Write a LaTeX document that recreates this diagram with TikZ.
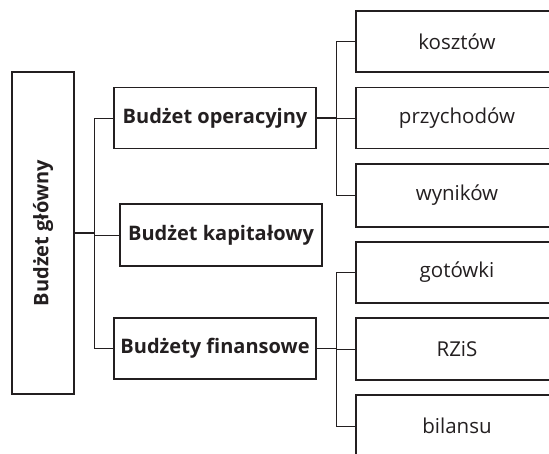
\documentclass[tikz,border=0pt]{standalone}
\usepackage{fontspec}
\setmainfont{Open Sans}
\definecolor{ink}{HTML}{231F20}
\begin{document}
\begin{tikzpicture}[x=1pt,y=-1pt,
  box/.style={draw=ink,line width=1.4pt,rectangle,inner sep=0pt,text=ink,
    minimum width=202pt,minimum height=61pt,font=\fontsize{20.5}{24}\selectfont},
  bbox/.style={box,font=\fontsize{20}{24}\selectfont\bfseries},
  conn/.style={draw=ink,line width=0.9pt},
  stub/.style={draw=ink,line width=1.6pt}]
\useasboundingbox (0,0) rectangle (549,454);
\clip (0,0) rectangle (549,454);
\node[bbox,minimum width=62pt,minimum height=322pt] (main) at (43,233) {};
\node[rotate=90,text=ink,font=\fontsize{20}{24}\selectfont\bfseries] (maint) at (main.center) {Budżet główny};
\node[bbox] (op) at (215,118) {Budżet operacyjny};
\node[bbox,minimum height=62pt] (kap) at (221,235) {Budżet kapitałowy};
\node[bbox] (fin) at (215,348.5) {Budżety finansowe};
\node[box] (k1) at (457,41.5) {kosztów};
\node[box] (k2) at (457,118) {przychodów};
\node[box,minimum height=63pt] (k3) at (457,195.5) {wyników};
\node[box] (f1) at (457,272.5) {gotówki};
\node[box,minimum height=62pt] (f2) at (457,349) {RZiS};
\node[box,minimum height=62pt] (f3) at (457,426) {bilansu};
\coordinate (vL) at (94,0);
\coordinate (vR) at (336,0);
\draw[conn] (op.west) -- (op.west -| vL) -- (fin.west -| vL) -- (fin.west);
\draw[conn] (vL |- kap.west) -- (kap.west);
\draw[stub] (main.east) -- (main.east -| vL);
\draw[conn] (k1.west) -- (k1.west -| vR) -- (k3.west -| vR) -- (k3.west);
\draw[conn] (vR |- k2.west) -- (k2.west);
\draw[stub] (op.east) -- (op.east -| vR);
\draw[conn] (f1.west) -- (f1.west -| vR) -- (f3.west -| vR) -- (f3.west);
\draw[conn] (vR |- f2.west) -- (f2.west);
\draw[stub] (fin.east) -- (fin.east -| vR);
\end{tikzpicture}
\end{document}
